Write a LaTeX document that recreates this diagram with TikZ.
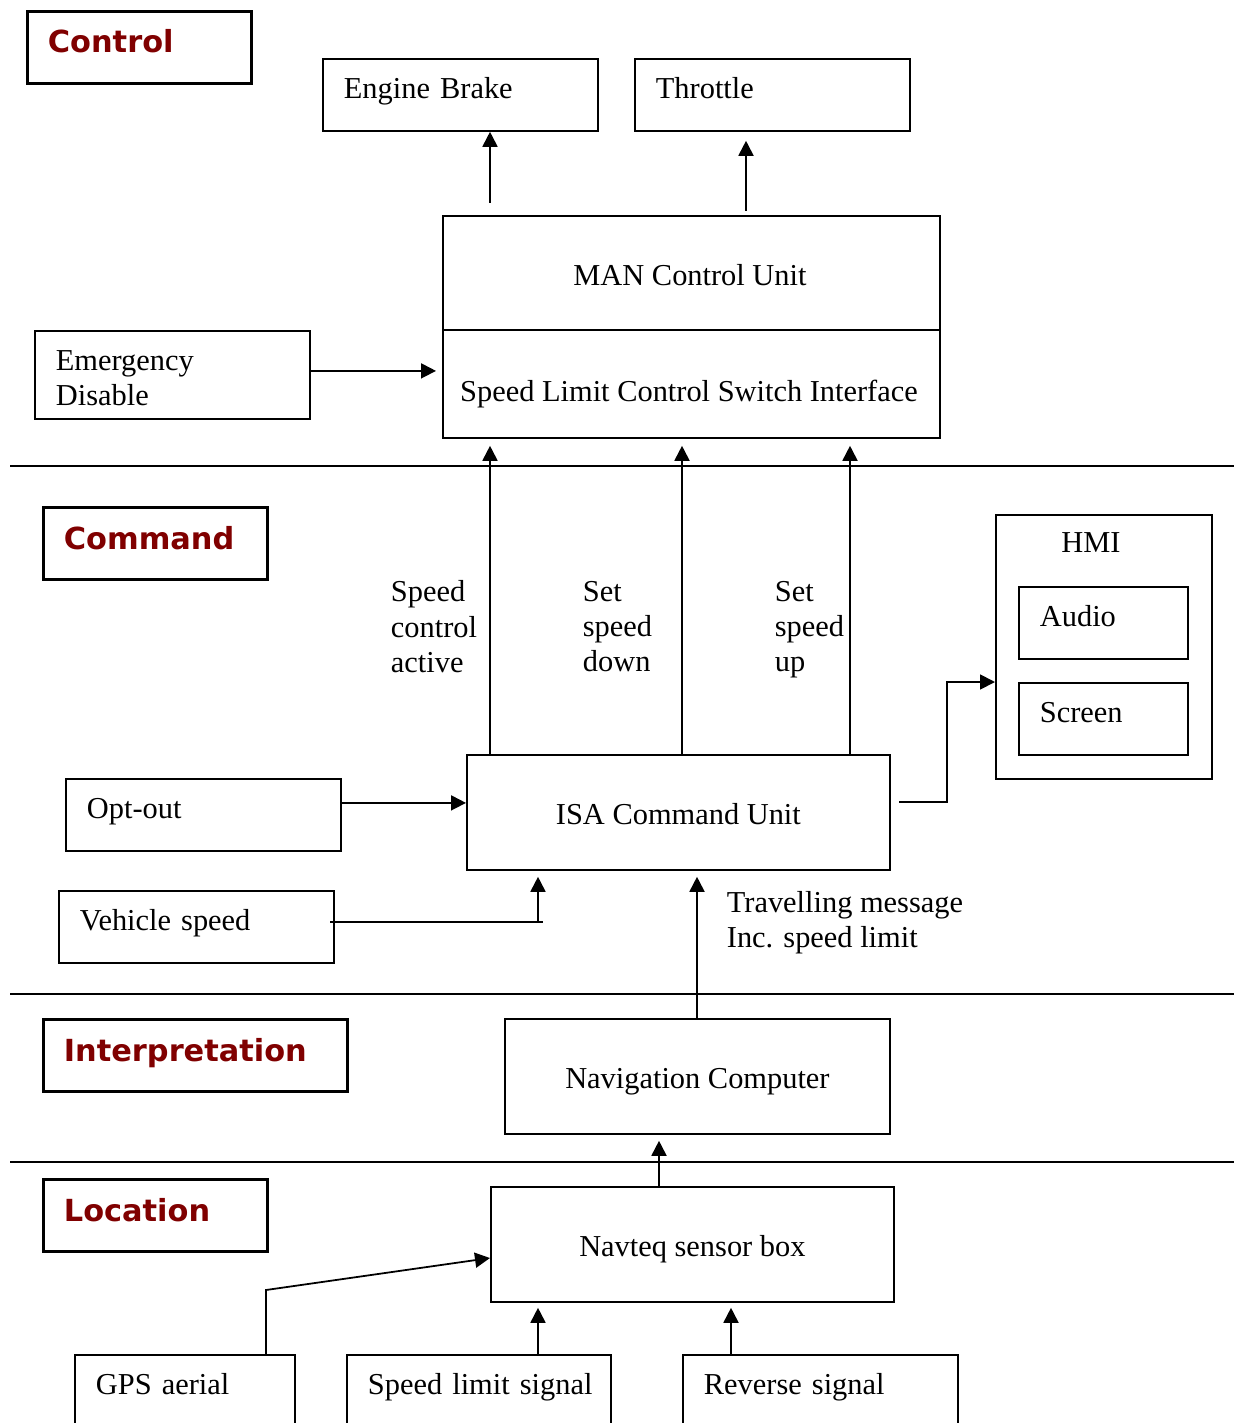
\documentclass[tikz,border=0pt]{standalone}
\usepackage{fontspec}
\setmainfont{Liberation Serif}
\newfontfamily\headfont{DejaVu Sans}
\usetikzlibrary{arrows.meta,calc}

\definecolor{headred}{HTML}{800000}

\begin{document}
\begin{tikzpicture}[x=.5pt,y=-.5pt,>={Triangle[length=7.5pt,width=7.5pt]},
  font=\fontsize{15.2}{17.7}\selectfont,
  every node/.style={inner sep=0pt},
  line width=.9pt,
  box/.style={draw,anchor=north west},
  onel/.style={text height=10.4pt,text depth=3.3pt},
  lbox/.style={box,text height=8.6pt,text depth=5.1pt,align=left,
    inner xsep=10.5pt,text width=#1,minimum height=36pt},
  cbox/.style={box,text height=15.4pt,text depth=3.3pt,
    minimum width=#1,minimum height=57.5pt},
  head/.style={box,line width=1.3pt,minimum width=#1,minimum height=36pt},
  htxt/.style={anchor=base west,text=headred,
    font=\headfont\bfseries\fontsize{15.2}{18}\selectfont},
  lbl/.style={anchor=north west,align=left},
  sep/.style={line width=1pt}]
\path[use as bounding box] (0,0) rectangle (1234,1423);

% layer separators
\draw[sep] (10,466) -- (1234,466);
\draw[sep] (10,994) -- (1234,994);
\draw[sep] (10,1162) -- (1234,1162);

% Control
\node[head=112pt] (ctl) at (26,10) {};
\node[htxt] (ctl-t) at ($(ctl.north west)+(21,43)$) {Control};
\node[lbox=116.5pt] (eb) at (322,58) {Engine Brake};
\node[lbox=116.5pt] (thr) at (634,58) {Throttle};
\node[box,minimum width=248.5pt,minimum height=111pt] (mcu) at (442,215) {};
\coordinate (mid) at (442,330);
\draw (mid) -- (mid -| mcu.east);
\node[onel] (mcu-t) at (690,278) {MAN Control Unit};
\node[onel] (slc-t) at (689,394) {Speed Limit Control Switch Interface};
\node[box,align=left,inner xsep=10.5pt,text width=116.5pt,text height=13.1pt,
  minimum height=44pt] (ed) at (34,330) {Emergency\\Disable};

\coordinate (m1) at (490,203);
\coordinate (m2) at (746,211);
\draw[->] (m1) -- (m1 |- eb.south);
\draw[->] (m2) -- ([yshift=-4.5pt]m2 |- thr.south);
\draw[->] ([yshift=2pt]ed.east) -- ([xshift=-3pt,yshift=2pt]ed.east -| mcu.west);

% Command
\node[head=112pt] (cmd) at (42,506) {};
\node[htxt] (cmd-t) at ($(cmd.north west)+(21,43)$) {Command};
\node[cbox=211.5pt] (isa) at (466,754) {ISA Command Unit};
\node[lbox=116.5pt] (opt) at (65,778) {Opt-out};
\node[lbox=116.5pt] (vsp) at (58,890) {Vehicle speed};
\node[box,minimum width=108pt,minimum height=132pt] (hmi) at (995,514) {};
\node[onel] (hmi-t) at (1091,545) {HMI};
\node[lbox=63.5pt] (aud) at (1018,586) {Audio};
\node[lbox=63.5pt] (scr) at (1018,682) {Screen};

\foreach \x/\n in {490/a,682/b,850/c}{
  \coordinate (up-\n) at (\x,754);
  \draw[->] (up-\n) -- ([yshift=-3.5pt]up-\n |- mcu.south);
}
\node[lbl] (lab-a) at (390,580) {Speed\\control\\active};
\node[lbl] (lab-b) at (582,580) {Set\\speed\\down};
\node[lbl] (lab-c) at (774,580) {Set\\speed\\up};

\coordinate (h1) at (899,802);
\draw[->] (h1) -- ++(48,0) |- (hmi.west |- scr.north);
\draw[->] ([yshift=6pt]opt.east) -- ([yshift=6pt]opt.east -| isa.west);
\coordinate (v0) at (330,922);
\coordinate (v1) at (538,922);
\draw (v0) -- ++(213,0);
\draw[->] (v1) -- ([yshift=-3pt]v1 |- isa.south);

% Interpretation
\node[head=152pt] (int) at (42,1018) {};
\node[htxt] (int-t) at ($(int.north west)+(21,43)$) {Interpretation};
\node[cbox=192.5pt] (nav) at (504,1018) {Navigation Computer};
\coordinate (t1) at (697,1018);
\draw[->] (t1) -- ([yshift=-3pt]t1 |- isa.south);
\node[lbl] (trv) at (726,890) {Travelling message\\Inc. speed limit};

% Location
\node[head=112pt] (loc) at (42,1178) {};
\node[htxt] (loc-t) at ($(loc.north west)+(21,43)$) {Location};
\node[cbox=201.5pt] (nq) at (490,1186) {Navteq sensor box};
\node[lbox=89pt] (gps) at (74,1354) {GPS aerial};
\node[lbox=111pt] (sls) at (346,1354) {\mbox{Speed limit signal}};
\node[lbox=116.5pt] (rev) at (682,1354) {Reverse signal};

\coordinate (n1) at (659,1186);
\draw[->] (n1) -- ([yshift=-3pt]n1 |- nav.south);
\coordinate (g1) at (266,1354);
\coordinate (g2) at (490,1258);
\draw[->] (g1) -- (266,1290) -- (g2);
\coordinate (s1) at (538,1354);
\coordinate (r1) at (731,1354);
\draw[->] (s1) -- ([yshift=-2.5pt]s1 |- nq.south);
\draw[->] (r1) -- ([yshift=-2.5pt]r1 |- nq.south);
\end{tikzpicture}
\end{document}
